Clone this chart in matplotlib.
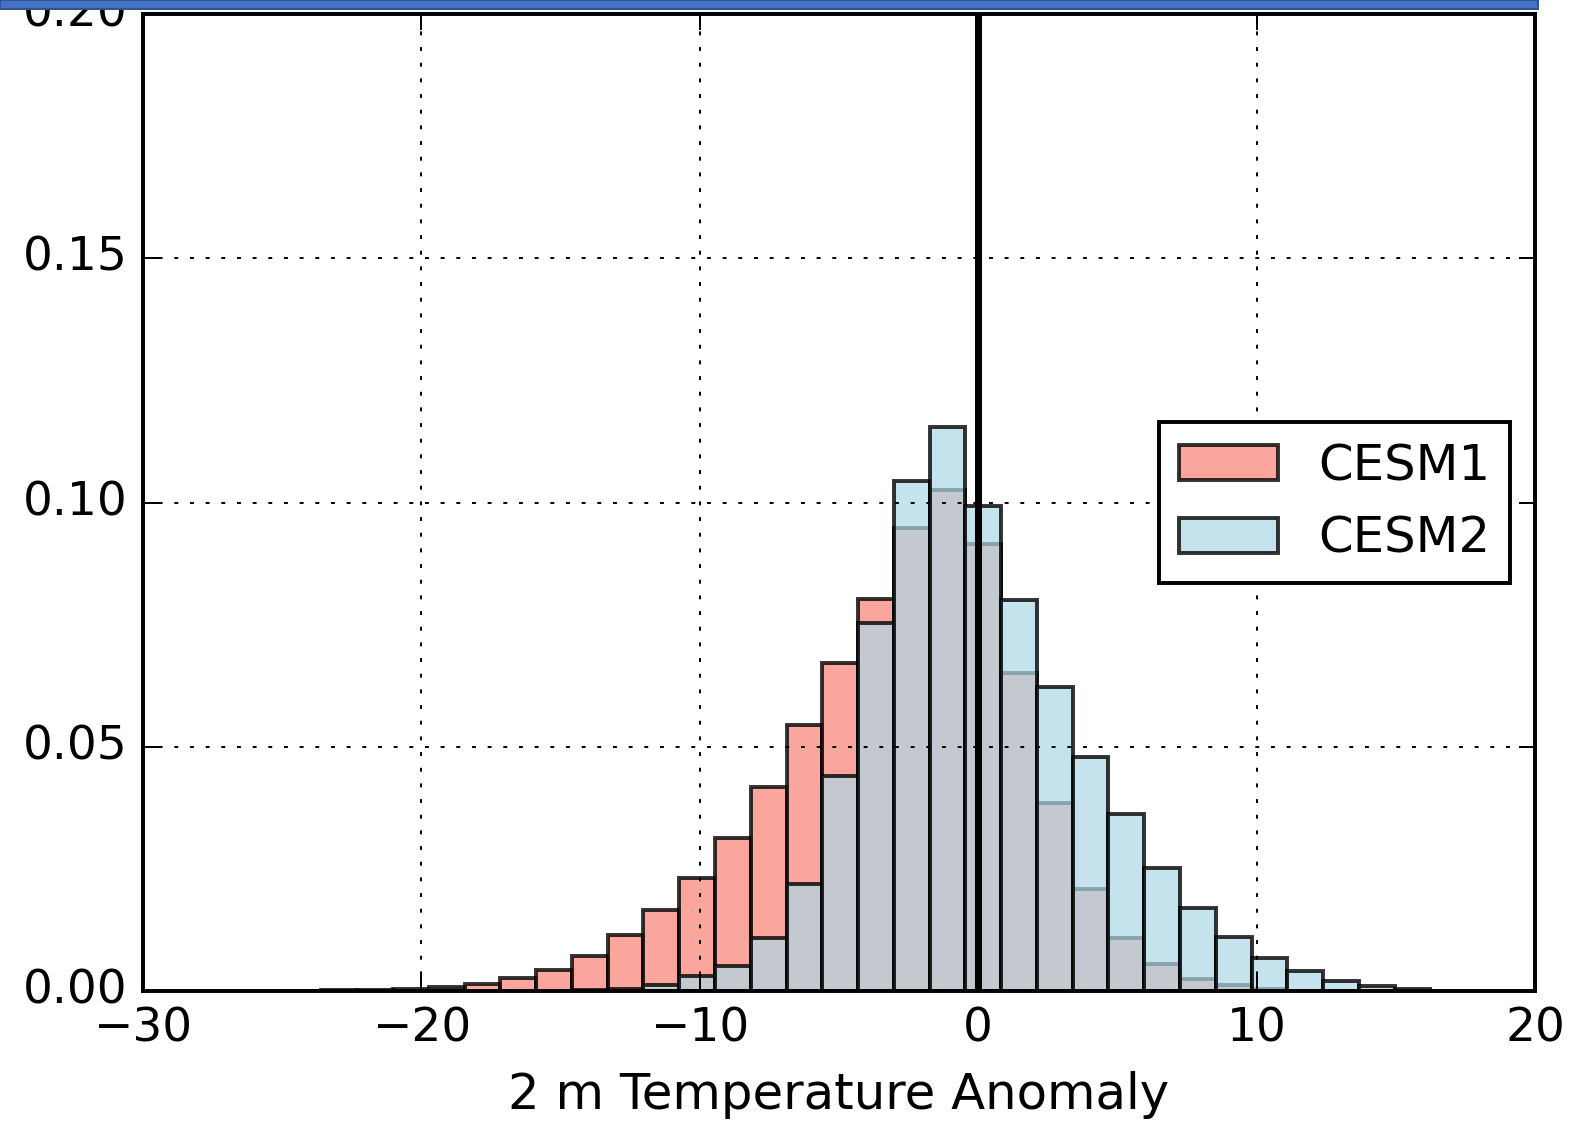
import numpy as np
import matplotlib
matplotlib.use("Agg")
import matplotlib.pyplot as plt
from matplotlib.patches import Rectangle
from matplotlib.colors import to_rgba

plt.style.use('classic')

# histogram bins (width ~1.285 K)
bin_width = 1.285
bin_edges = -0.46 + bin_width * np.arange(-19, 14)

# normalised frequencies
cesm1 = [0.0001, 0.0002, 0.0003, 0.0005, 0.0008, 0.0014, 0.0026, 0.0043,
         0.0072, 0.0114, 0.0165, 0.0232, 0.0313, 0.0418, 0.0544, 0.0671,
         0.0802, 0.0947, 0.1025, 0.0915, 0.0651, 0.0385, 0.0208, 0.0109,
         0.0056, 0.0025, 0.0012, 0.0004, 0.0001, 0.0001, 0.0, 0.0]
cesm2 = [0.0, 0.0, 0.0, 0.0, 0.0, 0.0, 0.0, 0.0001,
         0.0002, 0.0005, 0.0012, 0.0030, 0.0051, 0.0108, 0.0220, 0.0440,
         0.0754, 0.1045, 0.1154, 0.0992, 0.0800, 0.0623, 0.0479, 0.0362,
         0.0252, 0.0169, 0.0111, 0.0068, 0.0040, 0.0020, 0.0011, 0.0005]

labels = ['CESM1', 'CESM2']
x_ticks = [-30, -20, -10, 0, 10, 20]
y_ticks = [0.00, 0.05, 0.10, 0.15, 0.20]

dpi = 282
fig = plt.figure(figsize=(1578 / dpi, 1126 / dpi), dpi=dpi, facecolor='white')
ax = fig.add_axes([143 / 1578, 1 - 991 / 1126, (1535 - 143) / 1578, (991 - 14) / 1126])

centers = 0.5 * (bin_edges[:-1] + bin_edges[1:])
edge = (0, 0, 0, 0.8)
ax.hist(centers, bins=bin_edges, weights=cesm1, facecolor=to_rgba('salmon', 0.7),
        edgecolor=edge, linewidth=1.0, label=labels[0])
ax.hist(centers, bins=bin_edges, weights=cesm2, facecolor=to_rgba('lightblue', 0.7),
        edgecolor=edge, linewidth=1.0, label=labels[1])

ax.axvline(0, color='k', linewidth=1.8)

ax.set_xlim(-30, 20)
ax.set_ylim(0, 0.20)
ax.set_xticks(x_ticks)
ax.set_yticks(y_ticks)
ax.grid(True)
ax.set_xlabel('2 m Temperature Anomaly', fontsize=12.7)
ax.tick_params(labelsize=12)
ax.legend(loc='center right', fontsize=12.7)

# slide header strip at the very top
fig.patches.append(Rectangle((0, 1 - 9 / 1126), 1538 / 1578, 9 / 1126,
                             transform=fig.transFigure, facecolor='#4472c4',
                             edgecolor='#2f528f', linewidth=0.5, zorder=10))

fig.savefig('out.png', dpi=dpi, facecolor='white')
